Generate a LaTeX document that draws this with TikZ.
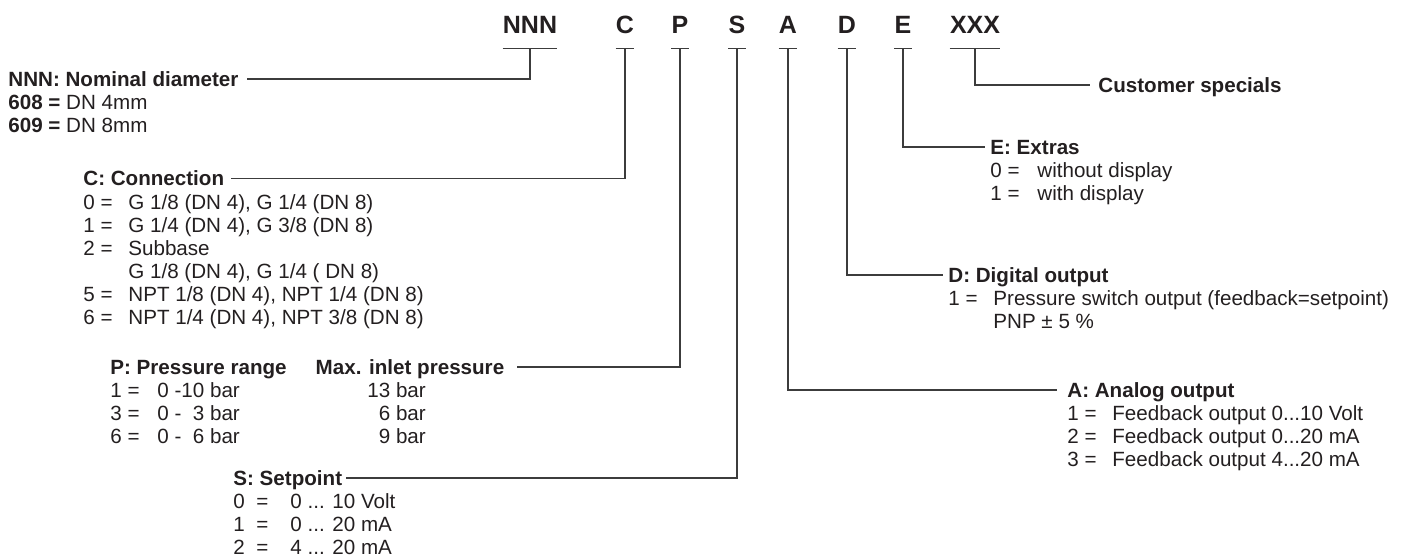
\documentclass[tikz,border=0pt]{standalone}
\usepackage{fontspec}
\setmainfont{Liberation Sans}
\definecolor{ink}{RGB}{35,31,32}
\definecolor{leadgray}{RGB}{60,60,60}

\begin{document}
\begin{tikzpicture}[x=0.5pt,y=-0.5pt,
	font=\fontsize{10.3}{11.55}\selectfont,
	every node/.style={inner sep=0pt,text=ink},
	code/.style={font=\fontsize{12.5}{14}\selectfont\bfseries,anchor=base},
	head/.style={font=\fontsize{10.3}{11.55}\selectfont\bfseries,anchor=base west,text height=7.4pt,text depth=0pt},
	body/.style={anchor=base west},
	lead/.style={draw=leadgray,line width=0.6pt}]
	\useasboundingbox (0,0) rectangle (1417,558);
	% order code
	\node[code] (letN) at (530,33) {NNN};
	\node[code] (letC) at (625,33) {C};
	\node[code] (letP) at (680,33) {P};
	\node[code] (letS) at (737,33) {S};
	\node[code] (letA) at (788,33) {A};
	\node[code] (letD) at (847,33) {D};
	\node[code] (letE) at (903,33) {E};
	\node[code] (letX) at (975,33) {XXX};
	\foreach \k in {letN,letC,letP,letS,letA,letD,letE,letX}
		\draw[lead] ([yshift=-7.5pt]\k.south west) -- ([yshift=-7.5pt]\k.south east);
	% left side
	\node[head] (nomhead) at (8,86.4) {NNN: Nominal diameter};
	\node[body] (nombody) at (8,109.5) {\begin{tabular}[t]{@{}l@{}}\textbf{608 =} DN 4mm\\\textbf{609 =} DN 8mm\end{tabular}};
	\node[head] (conhead) at (83,185.9) {C: Connection};
	\node[body] (conbody) at (83,209) {\begin{tabular}[t]{@{}p{22.5pt}@{}l@{}}
		0 =&G 1/8 (DN 4), G 1/4 (DN 8)\\
		1 =&G 1/4 (DN 4), G 3/8 (DN 8)\\
		2 =&Subbase\\
		&G 1/8 (DN 4), G 1/4 ( DN 8)\\
		5 =&NPT 1/8 (DN 4), NPT 1/4 (DN 8)\\
		6 =&NPT 1/4 (DN 4), NPT 3/8 (DN 8)\end{tabular}};
	\node[head] (preshead) at (110,374.4) {P: Pressure range\hspace{14.5pt}Max. inlet pressure};
	\node[body] (presbody) at (110,397.5) {\begin{tabular}[t]{@{}p{23.5pt}@{}p{105pt}@{}r@{}}
		1 =&0 -10 bar&13 bar\\
		3 =&0 -\hphantom{1}3 bar&6 bar\\
		6 =&0 -\hphantom{1}6 bar&9 bar\end{tabular}};
	\node[head] (sethead) at (233,485.4) {S: Setpoint};
	\node[body] (setbody) at (233,508.5) {\begin{tabular}[t]{@{}p{28.5pt}@{}l@{}}
		0 ~=&0 ... 10 Volt\\
		1 ~=&0 ... 20 mA\\
		2 ~=&4 ... 20 mA\end{tabular}};
	% right side
	\node[head] (custhead) at (1098,92.4) {Customer specials};
	\node[head] (exthead) at (990,154.4) {E: Extras};
	\node[body] (extbody) at (990,177.5) {\begin{tabular}[t]{@{}p{23.5pt}@{}l@{}}
		0 =&without display\\
		1 =&with display\end{tabular}};
	\node[head] (dighead) at (948,282.4) {D: Digital output};
	\node[body] (digbody) at (948,305.5) {\begin{tabular}[t]{@{}p{22.5pt}@{}l@{}}
		1 =&Pressure switch output (feedback=setpoint)\\
		&PNP ± 5 \%\end{tabular}};
	\node[head] (anahead) at (1067,397.4) {A: Analog output};
	\node[body] (anabody) at (1067,420.5) {\begin{tabular}[t]{@{}p{22.5pt}@{}l@{}}
		1 =&Feedback output 0...10 Volt\\
		2 =&Feedback output 0...20 mA\\
		3 =&Feedback output 4...20 mA\end{tabular}};
	% leads
	\draw[lead,shorten >=4pt] ([yshift=-7.5pt]letN.south) |- (nomhead.east);
	\draw[lead,shorten >=3pt] ([yshift=-7.5pt]letC.south) |- (conhead.east);
	\draw[lead,shorten >=6pt] ([yshift=-7.5pt]letP.south) |- (preshead.east);
	\draw[lead,shorten >=1.5pt] ([yshift=-7.5pt]letS.south) |- (sethead.east);
	\draw[lead,shorten >=5pt] ([yshift=-7.5pt]letA.south) |- (anahead.west);
	\draw[lead,shorten >=2.5pt] ([yshift=-7.5pt]letD.south) |- (dighead.west);
	\draw[lead,shorten >=2.5pt] ([yshift=-7.5pt]letE.south) |- (exthead.west);
	\draw[lead,shorten >=4pt] ([yshift=-7.5pt]letX.south) |- (custhead.west);
\end{tikzpicture}
\end{document}
